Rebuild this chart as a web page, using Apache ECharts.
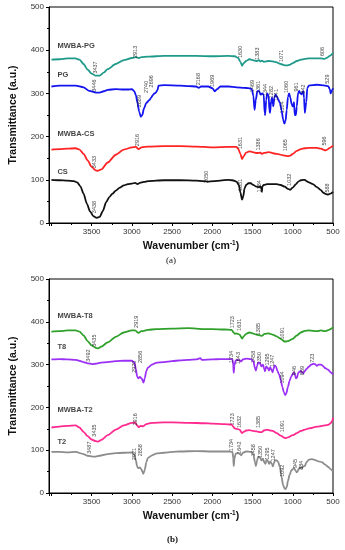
<!DOCTYPE html>
<html><head><meta charset="utf-8">
<script src="https://cdn.jsdelivr.net/npm/echarts@6/dist/echarts.min.js"></script>
<style>html,body{margin:0;padding:0;background:#fff}#c{width:345px;height:550px}</style>
</head><body><div id="c"></div>
<script>
// ---------- DATA (wavenumber cm-1, transmittance a.u.) ----------
const xTicksInterval = 500;
const yTicks = [0, 100, 200, 300, 400, 500];

const mwbaPG = [[4000,378],[3900,379],[3800,381],[3700,381],[3650,378],[3600,368],[3550,355],[3500,346],[3450,341],[3400,341],[3350,348],[3300,356],[3200,368],[3100,377],[3000,382],[2950,384],[2913,382],[2880,384],[2800,385],[2600,387],[2400,387],[2200,387],[2000,386],[1800,387],[1720,386],[1680,382],[1650,373],[1630,364],[1610,370],[1580,375],[1540,379],[1500,377],[1450,375],[1420,377],[1400,374],[1383,376],[1360,373],[1300,375],[1250,374],[1200,372],[1150,368],[1100,365],[1071,365],[1040,366],[1000,370],[950,375],[900,378],[850,380],[800,381],[700,381],[650,381],[606,380],[570,383],[540,387],[500,393]];
const PG = [[4000,316],[3900,318],[3800,318],[3700,318],[3600,314],[3530,306],[3446,302],[3400,302],[3350,305],[3300,308],[3200,310],[3100,309],[3050,309],[3000,310],[2970,305],[2950,296],[2930,278],[2910,258],[2889,246],[2870,250],[2850,265],[2820,278],[2780,285],[2760,290],[2740,296],[2720,300],[2700,302],[2690,306],[2680,308],[2670,318],[2600,319],[2400,318],[2300,317],[2200,316],[2168,313],[2140,316],[2050,316],[2000,312],[1969,305],[1940,310],[1900,316],[1800,316],[1700,314],[1600,313],[1550,312],[1510,310],[1490,295],[1475,262],[1460,285],[1440,305],[1420,306],[1400,297],[1380,300],[1361,297],[1350,255],[1344,250],[1330,285],[1318,300],[1300,295],[1290,260],[1282,255],[1270,282],[1258,290],[1248,275],[1241,270],[1230,290],[1215,297],[1200,293],[1180,286],[1160,278],[1140,262],[1120,240],[1104,230],[1090,236],[1075,262],[1060,292],[1045,300],[1030,290],[1015,275],[1000,270],[985,280],[975,250],[961,250],[950,270],[935,300],[920,306],[905,300],[890,298],[870,305],[860,290],[850,255],[842,255],[832,280],[820,312],[800,318],[700,320],[600,318],[560,317],[540,310],[529,300],[520,303],[510,308],[500,312]];
const mwbaCS = [[4000,170],[3900,171],[3800,172],[3700,173],[3650,170],[3600,160],[3550,145],[3500,130],[3450,122],[3420,121],[3380,124],[3300,140],[3200,158],[3100,170],[3000,175],[2950,176],[2916,171],[2880,175],[2800,177],[2600,178],[2400,178],[2200,177],[2000,175],[1800,176],[1700,176],[1680,172],[1650,160],[1631,148],[1610,155],[1580,163],[1540,166],[1500,164],[1450,162],[1400,163],[1386,160],[1360,162],[1300,164],[1200,160],[1100,156],[1065,155],[1030,156],[1000,160],[950,167],[900,171],[850,173],[800,174],[700,174],[650,172],[620,170],[596,168],[570,170],[540,174],[500,179]];
const CS = [[4000,100],[3900,99],[3800,98],[3720,97],[3680,94],[3640,85],[3600,68],[3560,45],[3520,27],[3480,16],[3438,12],[3400,14],[3360,28],[3320,48],[3280,60],[3240,68],[3200,75],[3150,82],[3100,87],[3050,90],[3000,91],[2960,93],[2930,90],[2900,93],[2850,95],[2800,97],[2600,99],[2400,99],[2200,98],[2050,96],[1900,98],[1800,100],[1750,99],[1700,96],[1670,88],[1650,70],[1631,54],[1615,62],[1600,80],[1580,88],[1550,92],[1520,92],[1500,89],[1450,84],[1420,83],[1400,84],[1390,82],[1384,72],[1378,85],[1360,88],[1320,90],[1250,90],[1200,90],[1150,88],[1100,84],[1060,79],[1032,77],[1000,82],[960,90],[930,96],[900,99],[870,100],[850,100],[830,97],[800,94],[750,90],[700,83],[650,76],[620,70],[588,67],[560,66],[530,68],[500,72]];

const mwbaT8 = [[4000,377],[3900,378],[3800,380],[3700,380],[3650,377],[3600,368],[3550,355],[3500,345],[3450,339],[3420,338],[3380,342],[3300,352],[3200,365],[3100,375],[3000,380],[2960,380],[2919,374],[2880,378],[2800,381],[2700,383],[2500,384],[2300,385],[2100,383],[2000,383],[1850,382],[1760,381],[1735,375],[1723,372],[1700,373],[1660,370],[1631,361],[1610,366],[1580,372],[1540,375],[1500,373],[1450,370],[1400,368],[1385,367],[1350,372],[1300,373],[1250,370],[1200,366],[1150,360],[1100,354],[1091,354],[1060,355],[1000,360],[950,368],[900,375],[850,379],[800,380],[700,378],[650,380],[600,378],[550,381],[520,384],[500,388]];
const T8 = [[4000,312],[3900,313],[3800,312],[3700,311],[3600,306],[3550,303],[3492,301],[3450,302],[3400,304],[3300,306],[3200,308],[3100,309],[3000,309],[2970,305],[2950,290],[2935,272],[2920,268],[2900,271],[2880,268],[2870,264],[2856,258],[2840,268],[2820,285],[2800,293],[2750,300],[2700,304],[2600,306],[2500,308],[2400,310],[2300,311],[2200,312],[2150,315],[2130,311],[2000,312],[1900,313],[1800,313],[1750,313],[1740,300],[1734,281],[1725,298],[1710,310],[1680,311],[1650,309],[1643,307],[1620,312],[1580,314],[1520,313],[1490,308],[1470,292],[1458,286],[1445,296],[1430,305],[1410,304],[1390,296],[1370,300],[1355,290],[1345,284],[1330,296],[1310,292],[1295,286],[1280,294],[1265,288],[1250,282],[1240,290],[1225,298],[1210,296],[1190,285],[1170,277],[1150,265],[1130,248],[1110,235],[1094,229],[1080,233],[1060,248],[1040,262],[1020,272],[1000,278],[985,282],[970,274],[960,268],[946,270],[935,280],[920,283],[900,285],[885,282],[869,280],[850,285],[830,290],[800,295],[770,300],[740,302],[723,301],[700,297],[680,300],[650,300],[620,296],[600,292],[560,288],[530,282],[500,277]];
const mwbaT2 = [[4000,153],[3900,155],[3800,157],[3700,158],[3650,153],[3600,143],[3550,133],[3500,125],[3450,121],[3420,120],[3380,124],[3300,135],[3200,148],[3100,158],[3000,164],[2960,165],[2935,158],[2916,154],[2890,157],[2860,156],[2820,161],[2750,164],[2600,165],[2500,165],[2300,164],[2100,163],[2000,162],[1850,161],[1760,160],[1740,155],[1723,151],[1700,150],[1660,148],[1632,140],[1610,143],[1580,146],[1540,147],[1500,145],[1450,144],[1400,142],[1385,142],[1360,146],[1320,148],[1280,146],[1250,145],[1200,140],[1150,134],[1100,129],[1091,128],[1060,130],[1000,135],[950,140],[900,145],[850,148],[800,151],[700,155],[600,158],[560,159],[530,163],[510,168],[500,176]];
const T2 = [[4000,96],[3900,96],[3800,95],[3700,96],[3600,91],[3550,87],[3487,85],[3450,85],[3400,87],[3300,91],[3200,93],[3100,94],[3000,95],[2970,90],[2950,76],[2935,62],[2921,58],[2900,60],[2880,55],[2870,50],[2858,45],[2840,54],[2820,72],[2800,82],[2750,88],[2700,92],[2600,94],[2500,96],[2400,97],[2200,98],[2000,97],[1900,97],[1800,97],[1750,96],[1740,82],[1734,63],[1725,80],[1710,92],[1680,93],[1650,90],[1642,88],[1620,94],[1580,97],[1520,96],[1490,90],[1470,72],[1458,63],[1445,75],[1430,85],[1410,84],[1390,76],[1370,80],[1350,70],[1340,68],[1325,78],[1310,75],[1295,68],[1280,74],[1260,68],[1247,62],[1235,70],[1220,76],[1200,76],[1180,72],[1160,60],[1140,38],[1120,18],[1100,10],[1092,9],[1075,14],[1060,28],[1040,42],[1020,52],[1000,56],[985,58],[965,52],[950,48],[940,50],[925,57],[910,60],[884,58],[870,62],[850,63],[830,72],[800,78],[760,79],[720,77],[680,74],[640,72],[600,67],[560,61],[530,56],[500,50]];

// peak annotations: [text, wavenumber position, transmittance position]
const mwbaPGPeaks = [['3437',3450,360],['2913',2960,396],['1630',1648,396],['1383',1435,392],['1071',1135,387],['606',625,397]];
const PGPeaks = [['3446',3470,318],['2889',2900,282],['2740',2818,315],['2696',2753,328],['2168',2178,333],['1969',1995,329],['1469',1506,317],['1361',1425,315],['1344',1343,308],['1282',1270,303],['1241',1197,296],['1104',1131,268],['1060',1074,315],['961',952,315],['842',863,310],['529',569,333]];
const mwbaCSPeaks = [['3433',3462,141],['2916',2932,192],['1631',1645,185],['1386',1425,182],['1065',1087,180],['596',606,190]];
const CSPeaks = [['3438',3470,37],['2050',2077,107],['1631',1653,88],['1384',1413,85],['1032',1046,100],['588',569,81]];
const mwbaT8Peaks = [['3435',3470,356],['2919',2940,400],['1723',1751,399],['1631',1657,393],['1385',1425,383],['1091',1127,373]];
const T8Peaks = [['3492',3543,321],['2920',2973,295],['2856',2891,318],['1734',1767,318],['1643',1669,315],['1458',1494,318],['1350',1413,315],['1295',1319,312],['1247',1250,309],['1094',1127,270],['946',977,286],['869',883,286],['723',761,315]];
const mwbaT2Peaks = [['3435',3470,146],['2916',2949,172],['1723',1751,172],['1632',1657,166],['1385',1425,166],['1091',1127,156]];
const T2Peaks = [['3487',3531,106],['2921',2973,91],['2858',2891,100],['1734',1767,112],['1642',1657,106],['1458',1494,100],['1350',1400,96],['1295',1319,92],['1247',1241,88],['1092',1127,52],['945',964,69],['884',895,65]];

// sample names: [text, wavenumber position, transmittance position]
const namesA = [['MWBA-PG',3932,410],['PG',3932,343],['MWBA-CS',3932,206],['CS',3932,118]];
const namesB = [['MWBA-T8',3932,413],['T8',3932,341],['MWBA-T2',3932,194],['T2',3932,119]];

// ---------- CHART ----------
const FONT = '"Liberation Sans", Arial, sans-serif';
const chart = echarts.init(document.getElementById('c'), null, {renderer: 'canvas'});

function xAxisCfg(gi) {
  return {
    gridIndex: gi, type: 'value', inverse: true, min: 500, max: 4030, interval: xTicksInterval,
    name: 'Wavenumber (cm{sup|-1})', nameLocation: 'middle', nameGap: 17,
    nameTextStyle: {fontFamily: FONT, fontWeight: 'bold', fontSize: 10.5, color: '#111',
      rich: {sup: {fontFamily: FONT, fontWeight: 'bold', fontSize: 6.5, color: '#111', padding: [0, 0, 6, 0]}}},
    axisLine: {show: true, onZero: false, lineStyle: {color: '#000', width: 1}},
    axisTick: {show: true, inside: false, length: 3, lineStyle: {color: '#000'}},
    minorTick: {show: true, splitNumber: 2, length: 2, lineStyle: {color: '#000'}},
    axisLabel: {fontFamily: FONT, fontSize: 8, color: '#333', margin: 5,
      formatter: v => (v >= 4000 ? '' : String(v))},
    splitLine: {show: false}
  };
}
function yAxisCfg(gi) {
  return {
    gridIndex: gi, type: 'value', min: 0, max: 500, interval: 100,
    name: 'Transmittance (a.u.)', nameLocation: 'middle', nameGap: 30,
    nameTextStyle: {fontFamily: FONT, fontWeight: 'bold', fontSize: 10.5, color: '#111'},
    axisLine: {show: true, lineStyle: {color: '#000', width: 1}},
    axisTick: {show: true, length: 3, lineStyle: {color: '#000'}},
    minorTick: {show: true, splitNumber: 2, length: 2, lineStyle: {color: '#000'}},
    axisLabel: {fontFamily: FONT, fontSize: 8, color: '#333', margin: 5,
      formatter: v => (yTicks.indexOf(v) >= 0 ? String(v) : '')},
    splitLine: {show: false}
  };
}
function lineS(data, color, gi) {
  return {type: 'line', xAxisIndex: gi, yAxisIndex: gi, data: data, showSymbol: false, symbol: 'none',
    smooth: 0.25, smoothMonotone: 'x', lineStyle: {color: color, width: 1.8}, z: 3, silent: true, animation: false};
}
function peakS(peaks, gi) {
  return {type: 'scatter', xAxisIndex: gi, yAxisIndex: gi, silent: true, animation: false, z: 6,
    data: peaks.map(p => [p[1], p[2], p[0]]), symbolSize: 1, itemStyle: {color: 'rgba(0,0,0,0)'},
    label: {show: true, position: 'inside', rotate: 90, formatter: p => p.data[2],
      fontFamily: FONT, fontSize: 5.5, color: '#111'}};
}
function nameS(names, gi) {
  return {type: 'scatter', xAxisIndex: gi, yAxisIndex: gi, silent: true, animation: false, z: 6,
    data: names.map(p => [p[1], p[2], p[0]]), symbolSize: 1, itemStyle: {color: 'rgba(0,0,0,0)'},
    label: {show: true, position: 'right', distance: 0, formatter: p => p.data[2],
      fontFamily: FONT, fontWeight: 'bold', fontSize: 7.5, color: '#111'}};
}

chart.setOption({
  animation: false,
  backgroundColor: '#fff',
  grid: [
    {left: 45, right: 12, top: 7, height: 216, show: true, borderColor: '#000', borderWidth: 1, backgroundColor: 'transparent'},
    {left: 45, right: 12, top: 279, height: 214, show: true, borderColor: '#000', borderWidth: 1, backgroundColor: 'transparent'}
  ],
  xAxis: [xAxisCfg(0), xAxisCfg(1)],
  yAxis: [yAxisCfg(0), yAxisCfg(1)],
  series: [
    lineS(mwbaPG, '#1f9a8a', 0), lineS(PG, '#1414f0', 0), lineS(mwbaCS, '#ff2424', 0), lineS(CS, '#111111', 0),
    lineS(mwbaT8, '#2fa02a', 1), lineS(T8, '#9b30f5', 1), lineS(mwbaT2, '#ff2a90', 1), lineS(T2, '#8c8c8c', 1),
    peakS(mwbaPGPeaks, 0), peakS(PGPeaks, 0), peakS(mwbaCSPeaks, 0), peakS(CSPeaks, 0),
    peakS(mwbaT8Peaks, 1), peakS(T8Peaks, 1), peakS(mwbaT2Peaks, 1), peakS(T2Peaks, 1),
    nameS(namesA, 0), nameS(namesB, 1)
  ],
  graphic: [
    {type: 'text', left: 166, top: 256, style: {text: '(a)', font: '9px "Liberation Serif", serif', fill: '#111'}},
    {type: 'text', left: 167, top: 535, style: {text: '(b)', font: 'bold 9px "Liberation Serif", serif', fill: '#111'}}
  ]
});
</script>
</body></html>
